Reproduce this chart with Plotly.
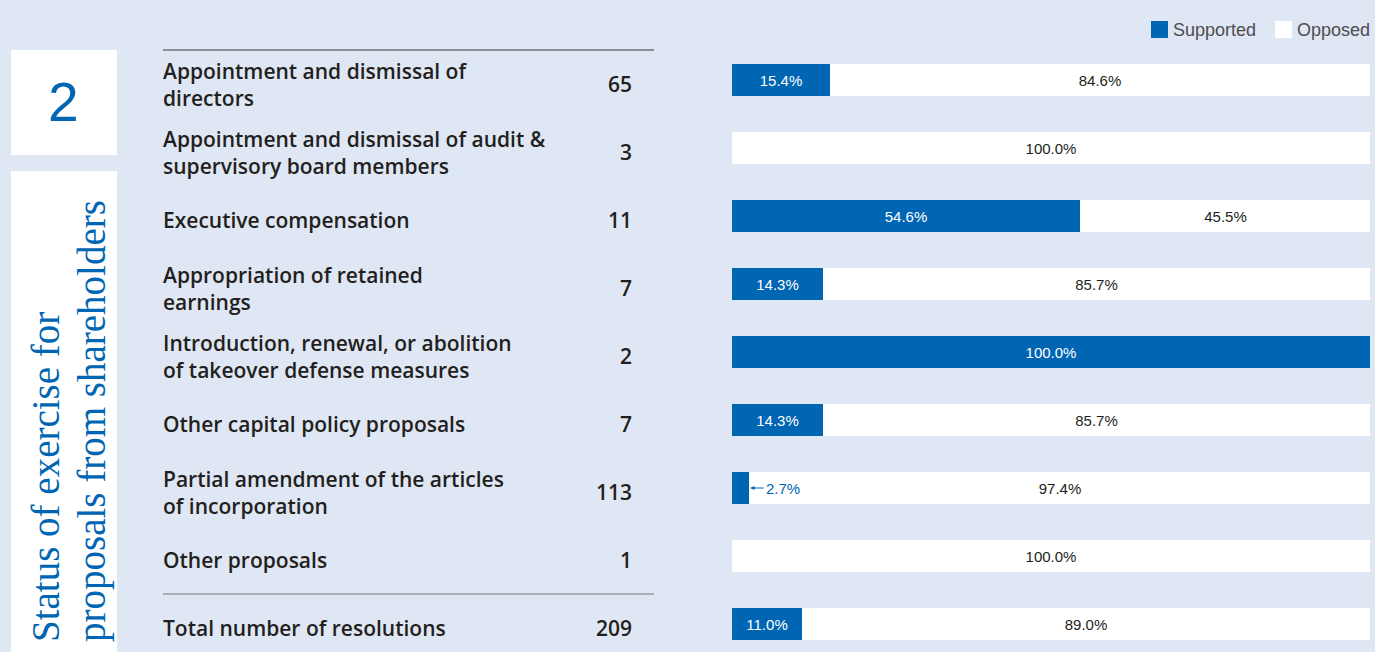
import plotly.graph_objects as go

categories = [
    "Appointment and dismissal of<br>directors",
    "Appointment and dismissal of audit &<br>supervisory board members",
    "Executive compensation",
    "Appropriation of retained<br>earnings",
    "Introduction, renewal, or abolition<br>of takeover defense measures",
    "Other capital policy proposals",
    "Partial amendment of the articles<br>of incorporation",
    "Other proposals",
    "Total number of resolutions",
]
counts = [65, 3, 11, 7, 2, 7, 113, 1, 209]
supported = [15.4, 0.0, 54.6, 14.3, 100.0, 14.3, 2.7, 0.0, 11.0]
opposed = [84.6, 100.0, 45.5, 85.7, 0.0, 85.7, 97.4, 100.0, 89.0]

BG = "#E0E7F4"
BLUE = "#0066B3"
DARK = "#231F20"
W, H = 1375, 652
LABEL_FONT = dict(size=21, color=DARK, family="Open Sans", weight=600)

def px(x):
    return x / W

def py(y):
    return 1 - y / H

ys = list(range(len(categories)))

sup_text = [f"{v:.1f}%" if v >= 5 else "" for v in supported]
opp_text = [f"{v:.1f}%" if v > 0 else "" for v in opposed]

fig = go.Figure()
fig.add_trace(go.Bar(
    y=ys, x=supported, orientation="h", name="Supported",
    marker=dict(color=BLUE, line=dict(width=0)),
    text=sup_text, textposition="inside", insidetextanchor="middle",
    textfont=dict(color="white", size=15, family="Liberation Sans"),
    width=0.47, showlegend=False, hoverinfo="x",
))
fig.add_trace(go.Bar(
    y=ys, x=opposed, orientation="h", name="Opposed",
    marker=dict(color="white", line=dict(width=0)),
    text=opp_text, textposition="inside", insidetextanchor="middle",
    textfont=dict(color=DARK, size=15, family="Liberation Sans"),
    width=0.47, showlegend=False, hoverinfo="x",
))

annotations = []
for i, (c, n) in enumerate(zip(categories, counts)):
    annotations.append(dict(
        xref="paper", yref="y", x=px(161), y=i, yshift=-4, text=c, showarrow=False,
        xanchor="left", yanchor="middle", align="left",
        font=LABEL_FONT,
    ))
    annotations.append(dict(
        xref="paper", yref="y", x=px(634), y=i, yshift=-4, text=str(n), showarrow=False,
        xanchor="right", yanchor="middle", align="right",
        font=LABEL_FONT,
    ))

# small-value label with arrow
for i, v in enumerate(supported):
    if 0 < v < 5:
        annotations.append(dict(
            xref="x", yref="y", x=v, y=i, ax=16, ay=0, axref="pixel", ayref="pixel",
            text="", showarrow=True, arrowhead=2, arrowsize=0.7, arrowwidth=1.2,
            arrowcolor=BLUE, standoff=1,
        ))
        annotations.append(dict(
            xref="x", yref="y", x=v, y=i, xshift=15, text=f"{v:.1f}%",
            showarrow=False, xanchor="left", yanchor="middle",
            font=dict(size=15, color=BLUE, family="Liberation Sans"),
        ))

# left panel
annotations.append(dict(
    xref="paper", yref="paper", x=px(64), y=py(102), text="2", showarrow=False,
    xanchor="center", yanchor="middle",
    font=dict(size=55, color=BLUE, family="Liberation Sans"),
))
annotations.append(dict(
    xref="paper", yref="paper", x=px(45), y=py(644), text="Status of exercise for",
    showarrow=False, textangle=-90, xanchor="center", yanchor="bottom",
    font=dict(size=39, color=BLUE, family="Liberation Serif"),
))
annotations.append(dict(
    xref="paper", yref="paper", x=px(92), y=py(644), text="proposals from shareholders",
    showarrow=False, textangle=-90, xanchor="center", yanchor="bottom",
    font=dict(size=39, color=BLUE, family="Liberation Serif"),
))

# legend
annotations.append(dict(
    xref="paper", yref="paper", x=px(1171), y=py(30), text="Supported", showarrow=False,
    xanchor="left", yanchor="middle", font=dict(size=18, color="#4D4D4F", family="Liberation Sans"),
))
annotations.append(dict(
    xref="paper", yref="paper", x=px(1295), y=py(30), text="Opposed", showarrow=False,
    xanchor="left", yanchor="middle", font=dict(size=18, color="#4D4D4F", family="Liberation Sans"),
))

shapes = [
    dict(type="rect", xref="paper", yref="paper", x0=px(11), x1=px(117), y0=py(155), y1=py(50),
         fillcolor="white", line=dict(width=0), layer="below"),
    dict(type="rect", xref="paper", yref="paper", x0=px(11), x1=px(117), y0=py(652), y1=py(171),
         fillcolor="white", line=dict(width=0), layer="below"),
    dict(type="line", xref="paper", yref="paper", x0=px(163), x1=px(654), y0=py(50), y1=py(50),
         line=dict(color="#3a3a3a", width=1)),
    dict(type="line", xref="paper", yref="paper", x0=px(163), x1=px(654), y0=py(594), y1=py(594),
         line=dict(color="#777777", width=1)),
    dict(type="rect", xref="paper", yref="paper", x0=px(1151), x1=px(1168), y0=py(38), y1=py(21),
         fillcolor=BLUE, line=dict(width=0)),
    dict(type="rect", xref="paper", yref="paper", x0=px(1275), x1=px(1292), y0=py(38), y1=py(21),
         fillcolor="white", line=dict(width=0)),
]

top = 46
row_h = 68
first_c = 80
y_top = (top - first_c) / row_h
y_bot = (H - first_c) / row_h

fig.update_layout(
    width=W, height=H,
    margin=dict(l=0, r=0, t=0, b=0),
    paper_bgcolor=BG, plot_bgcolor=BG,
    barmode="stack", bargap=0,
    xaxis=dict(domain=[px(732), px(1370)], range=[0, 100], visible=False, fixedrange=True),
    yaxis=dict(domain=[0, py(top)], range=[y_bot, y_top], visible=False, fixedrange=True),
    annotations=annotations, shapes=shapes,
    uniformtext=dict(mode="show", minsize=8),
)

fig.write_html(
    "out.html",
    config=dict(displayModeBar=False),
    post_script="document.body.style.margin='0';document.body.style.overflow='hidden';",
)
